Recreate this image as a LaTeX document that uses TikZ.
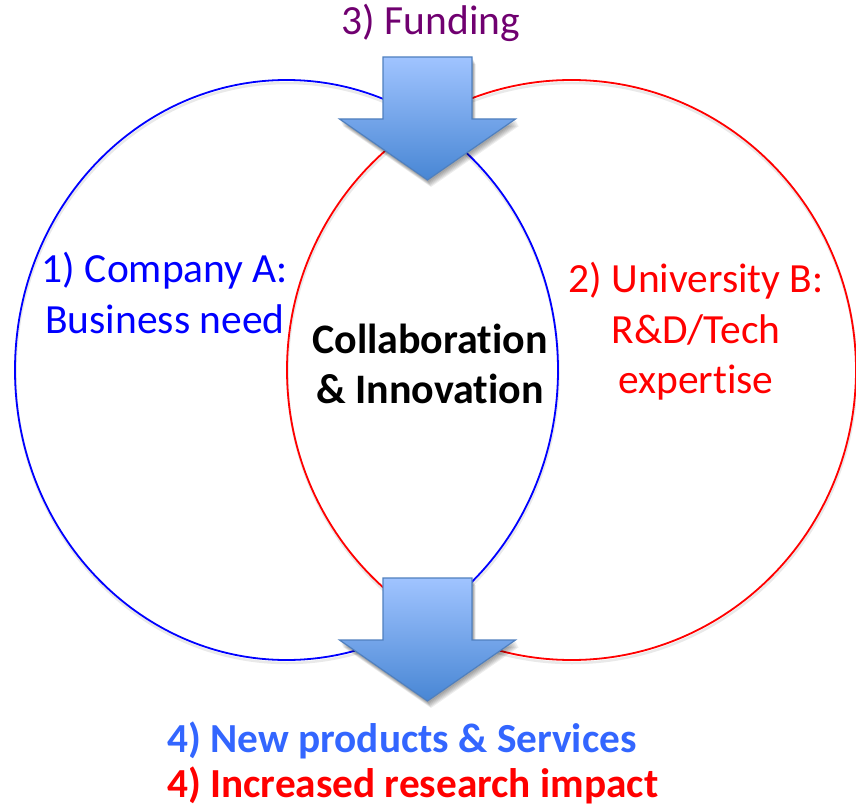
\documentclass[tikz,border=0pt]{standalone}
\usepackage{fontspec}
\setmainfont{Carlito}[Ligatures=NoCommon]
\definecolor{fundc}{RGB}{112,0,112}
\definecolor{prodc}{RGB}{51,102,255}
\definecolor{arrtop}{RGB}{160,196,255}
\definecolor{arrbot}{RGB}{72,134,212}
\definecolor{arredge}{RGB}{80,128,190}
\tikzset{
  ringA/.style={draw=blue, line width=1.8pt},
  ringB/.style={draw=red, line width=1.8pt},
  ringshadow/.style={draw=black!25, line width=2.5pt, opacity=0.35},
  lbl/.style={anchor=base, inner sep=0pt, font=\fontsize{41.5}{50}\selectfont},
  blbl/.style={anchor=base, inner sep=0pt, font=\fontsize{42}{50}\selectfont\bfseries},
  outlbl/.style={anchor=base west, inner sep=0pt, font=\fontsize{41.3}{50}\selectfont\bfseries},
  arrbody/.style={top color=arrtop, bottom color=arrbot, draw=arredge, line width=1.2pt, line join=miter},
  arrshadow/.style={fill=black, opacity=0.07, draw=none}
}
\newcommand\fatarrowpath[2]{%
  (#1-44.5,#2) -- (#1+44.5,#2) -- (#1+44.5,#2+62) -- (#1+88,#2+62) -- (#1,#2+123) -- (#1-88,#2+62) -- (#1-44.5,#2+62) -- cycle}
\begin{document}
\begin{tikzpicture}[x=1pt,y=-1pt]
\useasboundingbox (0,0) rectangle (856,810);
% ring shadows
\draw[ringshadow] (287,373) ellipse [x radius=271.5, y radius=290];
\draw[ringshadow] (572,373) ellipse [x radius=284.5, y radius=290];
% rings
\draw[ringA] (286.5,370) ellipse [x radius=271.5, y radius=290];
\draw[ringB] (571.5,370) ellipse [x radius=284.5, y radius=290];
% arrow shadows
\foreach \d in {2,3,4,5,6,7}{
  \fill[arrshadow] \fatarrowpath{427.5+0.5*\d}{57+\d};
  \fill[arrshadow] \fatarrowpath{427.5+0.5*\d}{578+\d};
}
% arrows
\path[arrbody] \fatarrowpath{427.5}{57};
\path[arrbody] \fatarrowpath{427.5}{578};
% texts
\node[lbl, text=fundc] (fund) at (431,35) {3) Funding};
\node[lbl, text=blue] (compa1) at (165,283) {1) Company A:};
\node[lbl, text=blue] (compa2) at (165,333) {Business need};
\node[lbl, text=red] (univ1) at (696,292) {2) University B:};
\node[lbl, text=red] (univ2) at (696,343) {R\&D/Tech};
\node[lbl, text=red] (univ3) at (696,393) {expertise};
\node[blbl] (collab1) at (430,353) {Collaboration};
\node[blbl] (collab2) at (430,403) {\& Innovation};
\node[outlbl, text=prodc] (out1) at (167,752) {4) New products \& Services};
\node[outlbl, text=red] (out2) at (167,797) {4) Increased research impact};
\end{tikzpicture}
\end{document}
